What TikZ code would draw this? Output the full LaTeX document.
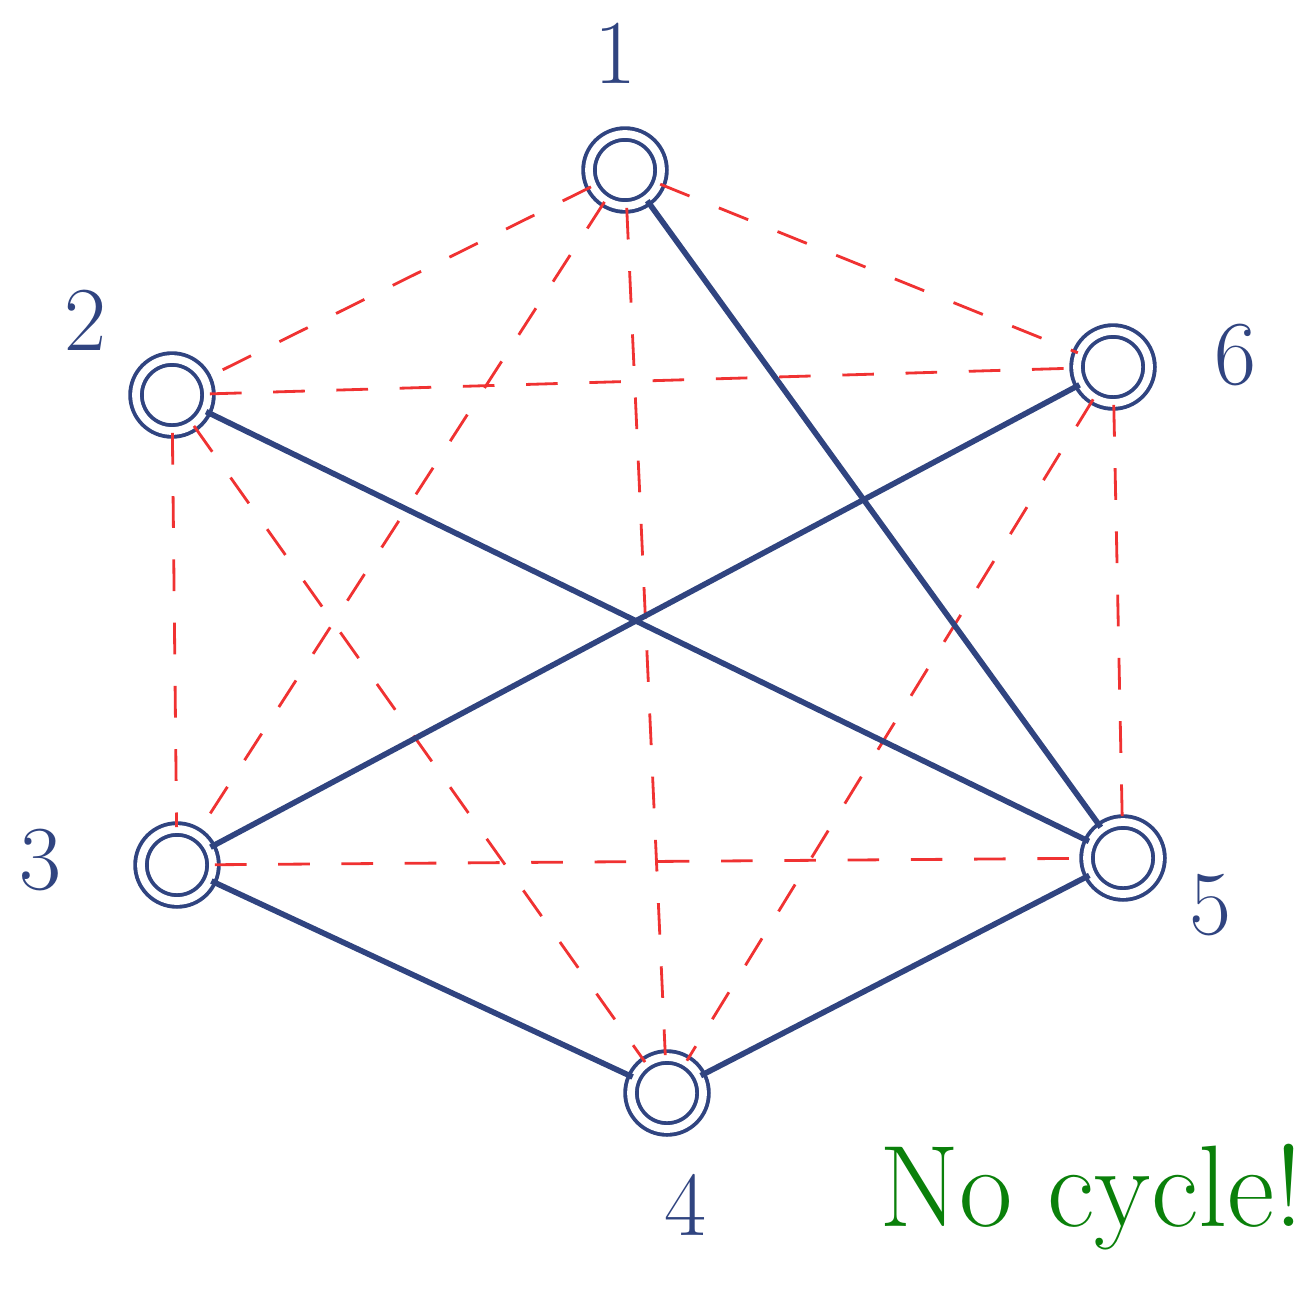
\documentclass[tikz,border=0pt]{standalone}
\usepackage{xcolor}
\usepackage{tikz}
\usetikzlibrary{positioning}
\definecolor{graphblue}{RGB}{48, 68, 128}
\definecolor{skipred}{RGB}{240, 50, 50}
\definecolor{notegreen}{RGB}{10, 128, 10}
\tikzstyle{vertex} = [
    circle,
    minimum size=0.72cm,
    draw=graphblue,
    line width=1.1pt,
    double=white,
    double distance=2.2pt
]
\tikzstyle{vlabel} = [
    text=graphblue,
    font=\fontsize{26}{30}\selectfont
]
\tikzstyle{tree} = [
    line width=1.6pt,
    color=graphblue
]
\tikzstyle{other} = [
    line width=0.8pt,
    dashed,
    dash pattern=on 9pt off 9pt,
    color=skipred
]

\begin{document}
\begin{tikzpicture}
        \useasboundingbox (0, 0) rectangle (13.06, 12.98);
        % Nodes
        \node[vertex] (v1) at (6.25, 11.28) {};
        \node[vertex] (v2) at (1.72, 9.03) {};
        \node[vertex] (v6) at (11.13, 9.31) {};
        \node[vertex] (v3) at (1.77, 4.33) {};
        \node[vertex] (v5) at (11.23, 4.40) {};
        \node[vertex] (v4) at (6.67, 2.05) {};

        % Labels
        \node[vlabel] (l1) at (6.15, 12.45) {1};
        \node[vlabel] (l2) at (0.85, 9.78) {2};
        \node[vlabel] (l6) at (12.35, 9.43) {6};
        \node[vlabel] (l3) at (0.40, 4.38) {3};
        \node[vlabel] (l5) at (12.10, 3.93) {5};
        \node[vlabel] (l4) at (6.85, 0.93) {4};

        % Dashed edges (not used)
        \draw[other] (v1) -- (v2);
        \draw[other] (v1) -- (v6);
        \draw[other] (v1) -- (v3);
        \draw[other] (v1) -- (v4);
        \draw[other] (v2) -- (v6);
        \draw[other] (v2) -- (v3);
        \draw[other] (v2) -- (v4);
        \draw[other] (v6) -- (v5);
        \draw[other] (v6) -- (v4);
        \draw[other] (v3) -- (v5);

        % Solid edges
        \draw[tree] (v1) -- (v5);
        \draw[tree] (v2) -- (v5);
        \draw[tree] (v6) -- (v3);
        \draw[tree] (v3) -- (v4);
        \draw[tree] (v4) -- (v5);

        % Note
        \node[anchor=base east, inner sep=0pt, text=notegreen, font=\fontsize{33}{40}\selectfont] (note) at (13.04, 0.72) {No cycle!};
    \end{tikzpicture}
\end{document}
